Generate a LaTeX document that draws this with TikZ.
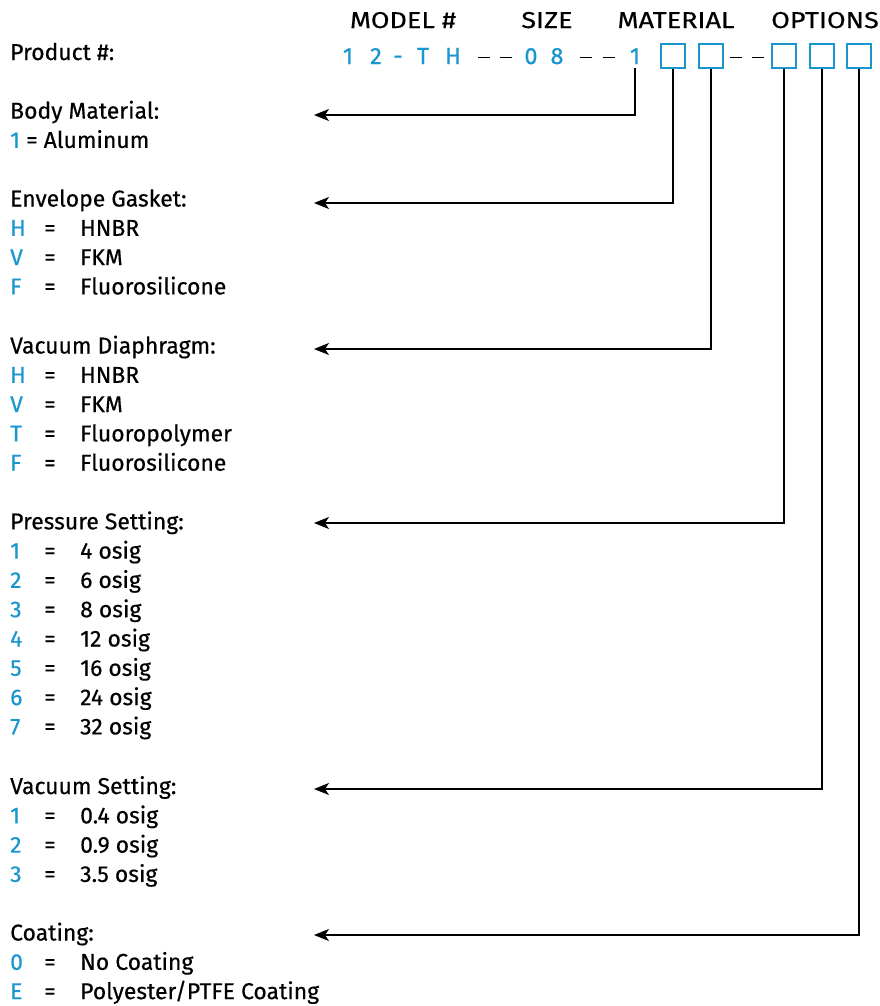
\documentclass[tikz,border=0pt]{standalone}
\usepackage{fontspec}
\setmainfont{Fira Sans}[FakeBold=0.4]
\newfontfamily\hdrfont{Fira Sans}[FakeStretch=1.18, FakeBold=0.4]
\newfontfamily\codefont{Fira Sans}[FakeBold=0.8]
\usetikzlibrary{arrows.meta}
\definecolor{codeBlue}{HTML}{1A96CF}

\begin{document}
\begin{tikzpicture}[x=1bp, y=-1bp,
    txt/.style={anchor=base west, inner sep=0pt, font=\fontsize{23}{26}\selectfont},
    key/.style={txt, text=codeBlue},
    hdr/.style={anchor=base, inner sep=0pt, font=\hdrfont\fontsize{23}{26}\selectfont},
    code/.style={anchor=base, inner sep=0pt, text=codeBlue, font=\codefont\fontsize{23.5}{26}\selectfont},
    slot/.style={draw=codeBlue, line width=1.7bp, minimum size=24bp, inner sep=0pt},
    gap/.style={line width=1bp},
    lead/.style={-{Stealth[length=15bp, width=12bp, inset=4bp]}, line width=1.4bp}]
    \useasboundingbox (0,0) rectangle (880,1006);
    % column heads
    \node[hdr] (hmodel) at (403,28) {MODEL \#};
    \node[hdr] (hsize) at (547,28) {SIZE};
    \node[hdr] (hmatl) at (676,28) {MATERIAL};
    \node[hdr] (hopt) at (825,28) {OPTIONS};
    % product number
    \node[txt] (prod) at (10,60) {Product \#:};
    \foreach \c/\x [count=\i] in {1/348, 2/376, -/398, T/423, H/453, 0/531, 8/557}
        \node[code] (c\i) at (\x,64) {\c};
    \node[code] (m1) at (635,64) {1};
    \node[slot] (s1) at (673,56) {};
    \node[slot] (s2) at (711,56) {};
    \node[slot] (s3) at (784,56) {};
    \node[slot] (s4) at (822,56) {};
    \node[slot] (s5) at (859,56) {};
    \foreach \a/\b in {478/490, 500/512, 580/592, 603/615, 730/742, 752/764}
        \draw[gap] (\a,57) -- (\b,57);
    % body material
    \node[txt] (body) at (10,118.6) {Body Material:};
    \node[txt] (body1) at (10,147.9) {\textcolor{codeBlue}{1} = Aluminum};
    % envelope gasket
    \node[txt] (env) at (10,206.5) {Envelope Gasket:};
    \foreach \k/\v [count=\i] in {H/HNBR, V/FKM, F/Fluorosilicone} {
        \node[key] (envk\i) at (10,{206.5+29.3*\i}) {\k};
        \node[txt] (enve\i) at (44,{206.5+29.3*\i}) {=};
        \node[txt] (envv\i) at (80,{206.5+29.3*\i}) {\v};
    }
    % vacuum diaphragm
    \node[txt] (vdia) at (10,353.5) {Vacuum Diaphragm:};
    \foreach \k/\v [count=\i] in {H/HNBR, V/FKM, T/Fluoropolymer, F/Fluorosilicone} {
        \node[key] (vdiak\i) at (10,{353.5+29.3*\i}) {\k};
        \node[txt] (vdiae\i) at (44,{353.5+29.3*\i}) {=};
        \node[txt] (vdiav\i) at (80,{353.5+29.3*\i}) {\v};
    }
    % pressure setting
    \node[txt] (pres) at (10,529.3) {Pressure Setting:};
    \foreach \v [count=\i] in {4, 6, 8, 12, 16, 24, 32} {
        \node[key] (presk\i) at (10,{529.3+29.3*\i}) {\i};
        \node[txt] (prese\i) at (44,{529.3+29.3*\i}) {=};
        \node[txt] (presv\i) at (80,{529.3+29.3*\i}) {\v\ osig};
    }
    % vacuum setting
    \node[txt] (vset) at (10,794) {Vacuum Setting:};
    \foreach \v [count=\i] in {0.4, 0.9, 3.5} {
        \node[key] (vsetk\i) at (10,{794+29.3*\i}) {\i};
        \node[txt] (vsete\i) at (44,{794+29.3*\i}) {=};
        \node[txt] (vsetv\i) at (80,{794+29.3*\i}) {\v\ osig};
    }
    % coating
    \node[txt] (coat) at (10,940.5) {Coating:};
    \foreach \k/\v [count=\i] in {0/No Coating, E/{Polyester/PTFE Coating}} {
        \node[key] (coatk\i) at (10,{940.5+29.3*\i}) {\k};
        \node[txt] (coate\i) at (44,{940.5+29.3*\i}) {=};
        \node[txt] (coatv\i) at (80,{940.5+29.3*\i}) {\v};
    }
    % leader ends
    \coordinate (bodyin) at (314,115);
    \coordinate (envin) at (314,203);
    \coordinate (vdiain) at (314,349);
    \coordinate (presin) at (314,523);
    \coordinate (vsetin) at (314,789);
    \coordinate (coatin) at (314,935);
    \draw[lead] ([yshift=-4bp]m1.south) |- (bodyin);
    \draw[lead] (s1.south) |- (envin);
    \draw[lead] (s2.south) |- (vdiain);
    \draw[lead] (s3.south) |- (presin);
    \draw[lead] (s4.south) |- (vsetin);
    \draw[lead] (s5.south) |- (coatin);
\end{tikzpicture}
\end{document}
